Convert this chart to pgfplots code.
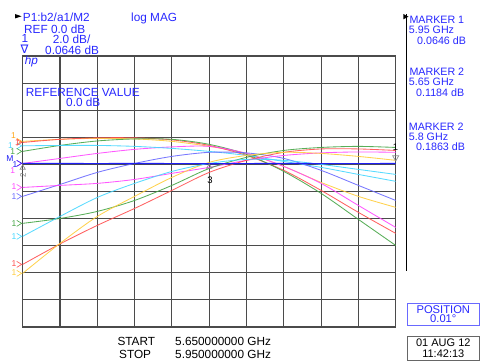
\documentclass[border=0pt]{standalone}
\usepackage{pgfplots}
\usepackage{pgfplotstable}
\pgfplotsset{compat=1.18}
\usepackage{fontspec}
\setmainfont{Liberation Sans}
\newfontfamily\dejavu{DejaVu Sans}
\definecolor{hpblue}{RGB}{40,40,255}
\definecolor{tyellow}{RGB}{255,205,60}
\definecolor{torange}{RGB}{255,165,20}
\definecolor{tred}{RGB}{255,80,80}
\definecolor{tcyan}{RGB}{70,215,255}
\definecolor{tgreen}{RGB}{70,165,70}
\definecolor{tmag}{RGB}{255,70,255}
\definecolor{tblue}{RGB}{105,105,255}
\definecolor{tflat}{RGB}{30,30,245}
\definecolor{gridc}{RGB}{75,75,75}
\newcommand\fs{\fontsize{11.8}{13}\selectfont}
\newcommand\fr{\fontsize{10.7}{12}\selectfont}
\newcommand\fl{\fontsize{8.5}{10}\selectfont}

\pgfplotstableread{
f    fy    fr    fg    fm    fc    bf     bh    rm    rg    rr    ry    rc
5.65 1.70  1.62  0.96  0.07  1.37  0.08  -2.36 -1.70 -4.35 -7.38 -8.04 -5.31
5.68 1.85  1.85  1.40  0.44  1.40  0.07  -1.48 -1.55 -3.99 -5.87 -5.83 -3.84
5.71 1.92  1.96  1.73  0.81  1.40  0.06  -0.59 -1.40 -3.47 -4.50 -3.84 -2.44
5.74 1.88  1.96  1.88  1.11  1.33  0.07   0.07 -1.11 -2.66 -3.25 -2.36 -1.40
5.77 1.70  1.81  1.85  1.29  1.18  0.06   0.59 -0.66 -1.55 -1.92 -0.96 -0.52
5.80 1.33  1.40  1.48  1.33  0.96  0.05   0.89 -0.22 -0.30 -0.59  0.15  0.07
5.83 0.81  0.66  0.74  0.81  0.66  0.06   0.85  0.30  0.52  0.30  0.66  0.37
5.86 -0.15 -0.44 -0.52 -0.15 0.22  0.07   0.44  0.66  1.03  0.89  0.89  0.30
5.89 -1.33 -1.92 -2.14 -1.40 -0.22 0.06  -0.44  0.85  1.25  1.14  0.81  0.00
5.92 -2.36 -3.54 -4.06 -3.03 -0.74 0.06  -1.55  0.92  1.33  1.14  0.59 -0.37
5.95 -3.17 -5.09 -5.98 -4.65 -1.25 0.0646 -2.66 0.89  1.25  1.03  0.30 -0.74
}\traces

\newcommand\chev[2]{\draw[#1, line width=0.6pt] ([xshift=-6pt,yshift=3pt]axis cs:5.65,#2) -- ([xshift=-1pt]axis cs:5.65,#2) -- ([xshift=-6pt,yshift=-3pt]axis cs:5.65,#2);}

\begin{document}
\begin{tikzpicture}[x=1pt,y=1pt]
\useasboundingbox (0,0) rectangle (480,361);
\begin{axis}[
  at={(22.7pt,34pt)}, anchor=south west, scale only axis,
  width=373pt, height=271pt,
  xmin=5.65, xmax=5.95, ymin=-12, ymax=8,
  xtick={5.65,5.68,5.71,5.74,5.77,5.80,5.83,5.86,5.89,5.92,5.95},
  ytick={-12,-10,-8,-6,-4,-2,0,2,4,6,8},
  xticklabels={}, yticklabels={},
  major tick length=0pt,
  grid=major,
  grid style={gridc, line width=1.15pt},
  axis line style={gridc, line width=1.2pt},
  clip=false,
  every axis plot/.append style={line width=0.85pt, smooth, opacity=0.9},
]
\addplot[tyellow] table[x=f,y=fy]{\traces};
\addplot[tred] table[x=f,y=fr]{\traces};
\addplot[tgreen] table[x=f,y=fg]{\traces};
\addplot[tmag] table[x=f,y=fm]{\traces};
\addplot[tcyan] table[x=f,y=fc]{\traces};
\addplot[tblue] table[x=f,y=bh]{\traces};
\addplot[tmag] table[x=f,y=rm]{\traces};
\addplot[tgreen] table[x=f,y=rg]{\traces};
\addplot[tred] table[x=f,y=rr]{\traces};
\addplot[tyellow] table[x=f,y=ry]{\traces};
\addplot[tcyan] table[x=f,y=rc]{\traces};
\addplot[tflat, line width=1.1pt, opacity=1] table[x=f,y=bf]{\traces};
% markers
\addplot[only marks, mark=triangle, mark size=3.5pt, gray, mark options={yshift=6pt, rotate=180, line width=0.7pt}] coordinates {(5.95,0.0646)};
\addplot[only marks, mark=triangle, mark size=3pt, gray, mark options={yshift=-5pt, line width=0.7pt}] coordinates {(5.65,0.1184) (5.80,0.1863)};
\chev{torange}{1.70}
\chev{tred}{1.62}
\chev{tcyan}{1.37}
\chev{tgreen}{0.96}
\chev{tmag}{0.07}
\chev{tflat}{0.08}
\chev{tmag}{-1.70}
\chev{tblue}{-2.36}
\chev{tgreen}{-4.35}
\chev{tcyan}{-5.31}
\chev{tred}{-7.38}
\chev{tyellow}{-8.04}
\end{axis}

% trace labels at left
\begin{scope}[every node/.style={inner sep=0, font=\fl}]
\node[text=torange] at (13.5,225.5) {1};
\node[text=tred] at (17.5,218.8) {1};
\node[text=tcyan] at (10.5,215) {1};
\node[text=tgreen] at (12.7,209.8) {1};
\node[text=tflat] at (10,202.5) {M};
\node[text=tflat] at (15,196.7) {1};
\node[text=tmag] at (12.7,190.5) {1};
\node[text=tmag] at (14,174.3) {1};
\node[text=tblue] at (14,164.3) {1};
\node[text=tgreen] at (14,137) {1};
\node[text=tcyan] at (14,124.3) {1};
\node[text=tred] at (14,97.5) {1};
\node[text=tyellow] at (14,88) {1};
\end{scope}
\begin{scope}[every node/.style={inner sep=0, font=\fontsize{9.5}{10}\selectfont}]
\node[text=black] at (395.5,214) {1};
\node[text=black] at (210,181) {3};
\node[text=gray, rotate=90, font=\fontsize{8}{9}\selectfont] at (23,186) {2};
\end{scope}

% header left
\fill[black] (15,347) -- (21.5,344.7) -- (15,342.5) -- cycle;
\begin{scope}[every node/.style={inner sep=0, anchor=base west, text=hpblue, font=\fs}]
\node at (22.7,339.3) {P1:b2/a1/M2};
\node at (131,339.3) {log MAG};
\node at (24,327.7) {REF 0.0 dB};
\node at (21.5,318.6) {1};
\node at (52.7,317) {2.0 dB/};
\node at (20.5,307) {\dejavu ∇};
\node at (45,306.5) {0.0646 dB};
\node[font=\fs\itshape] at (24.7,296.5) {hp};
\node at (25.7,264.3) {REFERENCE VALUE};
\node at (66,254.3) {0.0 dB};
\end{scope}

% right panel
\fill[black] (403.3,347) -- (408.5,344.3) -- (403.3,341.7) -- cycle;
\draw[black, line width=0.8pt] (406.8,347) -- (406.8,90);
\begin{scope}[every node/.style={inner sep=0, anchor=base west, text=hpblue, font=\fr}]
\node at (409.3,337.7) {MARKER 1};
\node at (408.7,327.7) {5.95 GHz};
\node at (417,316.7) {0.0646 dB};
\node at (409.3,285) {MARKER 2};
\node at (408.7,275) {5.65 GHz};
\node at (416,264.3) {0.1184 dB};
\node at (408.7,230) {MARKER 2};
\node at (408.7,220) {5.8 GHz};
\node at (416,210) {0.1863 dB};
\end{scope}

% position box
\draw[hpblue!70, line width=0.9pt] (407.2,35.7) rectangle (479.5,57.7);
\node[inner sep=0, anchor=base, text=hpblue, font=\fontsize{11.2}{12}\selectfont] at (443.3,47.6) {POSITION};
\node[inner sep=0, anchor=base, text=hpblue, font=\fontsize{11.2}{12}\selectfont] at (443.3,38) {0.01°};
% date box
\draw[gray!80!black, line width=0.9pt] (407.2,0.5) rectangle (479.5,24.3);
\node[inner sep=0, anchor=base, text=black, font=\fontsize{11}{12}\selectfont] at (443.3,14.3) {01 AUG 12};
\node[inner sep=0, anchor=base, text=black, font=\fontsize{11}{12}\selectfont] at (443.3,3.3) {11:42:13};

% bottom start/stop
\begin{scope}[every node/.style={inner sep=0, anchor=base west, text=black, font=\fs}]
\node at (117.3,15) {START};
\node at (175,15) {5.650000000 GHz};
\node at (119,2.7) {STOP};
\node at (175,2.7) {5.950000000 GHz};
\end{scope}
\end{tikzpicture}
\end{document}
